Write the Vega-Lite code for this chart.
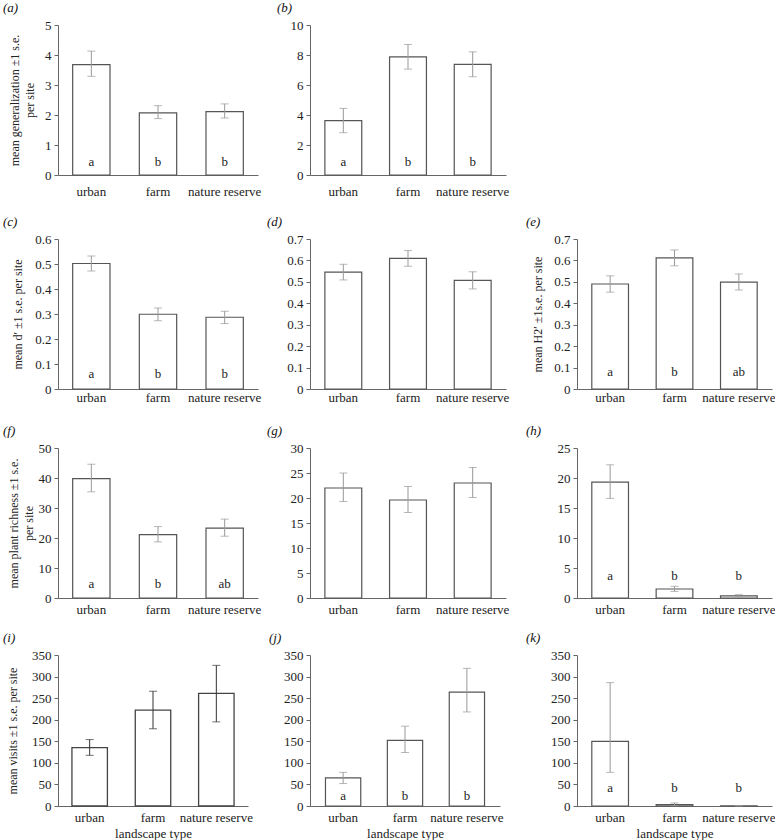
{
  "$schema": "https://vega.github.io/schema/vega-lite/v6.json",
  "padding": {"left": 3, "top": 2, "right": 0, "bottom": 0},
  "config": {
    "view": {"stroke": null},
    "font": "Liberation Serif, Times New Roman, serif",
    "axis": {"labelFont": "Liberation Serif, Times New Roman, serif", "labelFontSize": 13, "labelColor": "#222", "titleFont": "Liberation Serif, Times New Roman, serif", "titleFontSize": 12, "titleFontWeight": "normal", "titleColor": "#222", "domainColor": "#666", "tickColor": "#666", "grid": false},
    "axisX": {"ticks": false, "labelAngle": 0, "labelPadding": 5, "titleFontSize": 13, "titlePadding": 3},
    "axisY": {"tickSize": 4, "labelPadding": 3, "titleLineHeight": 15, "format": "~f"},
    "title": {"font": "Liberation Serif, Times New Roman, serif", "fontSize": 13, "fontStyle": "italic", "fontWeight": "normal", "anchor": "start", "frame": "group", "color": "#111"},
    "text": {"font": "Liberation Serif, Times New Roman, serif", "fontSize": 13, "color": "#222", "baseline": "middle"}
  },
  "columns": 5,
  "spacing": {"row": 57, "column": 0},
  "bounds": "flush",
  "align": "each",
  "concat": [
    {
      "width": 200, "height": 150,
      "title": {"text": "(a)", "dx": -55},
      "data": {"values": [
        {"type": "urban", "mean": 3.68, "lo": 3.29, "hi": 4.13, "letter": "a"},
        {"type": "farm", "mean": 2.07, "lo": 1.88, "hi": 2.31, "letter": "b"},
        {"type": "nature reserve", "mean": 2.11, "lo": 1.90, "hi": 2.37, "letter": "b"}
      ]},
      "encoding": {"x": {"field": "type", "type": "nominal", "sort": ["urban", "farm", "nature reserve"], "scale": {"paddingInner": 0.44, "paddingOuter": 0.22}, "axis": {"title": null, "labelPadding": 10}}},
      "layer": [
        {"mark": {"type": "bar", "fill": "white", "stroke": "#555", "strokeWidth": 1.2}, "encoding": {"y": {"field": "mean", "type": "quantitative", "title": ["mean generalization ±1 s.e.", "per site"], "scale": {"domain": [0, 5], "nice": false}, "axis": {"values": [0, 1, 2, 3, 4, 5], "titlePadding": 8}}}},
        {"mark": {"type": "errorbar", "ticks": {"size": 8}, "color": "#999"}, "encoding": {"y": {"field": "lo", "type": "quantitative", "title": ["mean generalization ±1 s.e.", "per site"], "axis": {"values": [0, 1, 2, 3, 4, 5], "titlePadding": 8}}, "y2": {"field": "hi"}}},
        {"mark": {"type": "text", "dy": -13}, "encoding": {"y": {"datum": 0, "type": "quantitative", "title": ["mean generalization ±1 s.e.", "per site"], "axis": {"values": [0, 1, 2, 3, 4, 5], "titlePadding": 8}}, "text": {"field": "letter"}}}
      ]
    },
    {"width": 52, "height": 157, "data": {"values": []}, "mark": "point"},
    {
      "width": 196, "height": 150,
      "title": {"text": "(b)", "dx": -33},
      "data": {"values": [
        {"type": "urban", "mean": 3.62, "lo": 2.82, "hi": 4.44, "letter": "a"},
        {"type": "farm", "mean": 7.88, "lo": 7.06, "hi": 8.70, "letter": "b"},
        {"type": "nature reserve", "mean": 7.37, "lo": 6.55, "hi": 8.21, "letter": "b"}
      ]},
      "encoding": {"x": {"field": "type", "type": "nominal", "sort": ["urban", "farm", "nature reserve"], "scale": {"paddingInner": 0.43, "paddingOuter": 0.23}, "axis": {"title": null, "labelPadding": 10}}},
      "layer": [
        {"mark": {"type": "bar", "fill": "white", "stroke": "#555", "strokeWidth": 1.2}, "encoding": {"y": {"field": "mean", "type": "quantitative", "title": null, "scale": {"domain": [0, 10], "nice": false}, "axis": {"values": [0, 2, 4, 6, 8, 10]}}}},
        {"mark": {"type": "errorbar", "ticks": {"size": 8}, "color": "#999"}, "encoding": {"y": {"field": "lo", "type": "quantitative", "title": null, "axis": {"values": [0, 2, 4, 6, 8, 10]}}, "y2": {"field": "hi"}}},
        {"mark": {"type": "text", "dy": -13}, "encoding": {"y": {"datum": 0, "type": "quantitative", "title": null, "axis": {"values": [0, 2, 4, 6, 8, 10]}}, "text": {"field": "letter"}}}
      ]
    },
    {"width": 71, "height": 157, "data": {"values": []}, "mark": "point"},
    {"width": 1, "height": 1, "data": {"values": []}, "mark": "point"},

    {
      "width": 200, "height": 150,
      "title": {"text": "(c)", "dx": -55},
      "data": {"values": [
        {"type": "urban", "mean": 0.502, "lo": 0.472, "hi": 0.532, "letter": "a"},
        {"type": "farm", "mean": 0.299, "lo": 0.273, "hi": 0.324, "letter": "b"},
        {"type": "nature reserve", "mean": 0.287, "lo": 0.262, "hi": 0.311, "letter": "b"}
      ]},
      "encoding": {"x": {"field": "type", "type": "nominal", "sort": ["urban", "farm", "nature reserve"], "scale": {"paddingInner": 0.44, "paddingOuter": 0.22}, "axis": {"title": null, "labelPadding": 2}}},
      "layer": [
        {"mark": {"type": "bar", "fill": "white", "stroke": "#555", "strokeWidth": 1.2}, "encoding": {"y": {"field": "mean", "type": "quantitative", "title": "mean d′ ±1 s.e. per site", "scale": {"domain": [0, 0.6], "nice": false}, "axis": {"values": [0, 0.1, 0.2, 0.3, 0.4, 0.5, 0.6], "titlePadding": 10}}}},
        {"mark": {"type": "errorbar", "ticks": {"size": 8}, "color": "#999"}, "encoding": {"y": {"field": "lo", "type": "quantitative", "title": "mean d′ ±1 s.e. per site", "axis": {"values": [0, 0.1, 0.2, 0.3, 0.4, 0.5, 0.6], "titlePadding": 10}}, "y2": {"field": "hi"}}},
        {"mark": {"type": "text", "dy": -15}, "encoding": {"y": {"datum": 0, "type": "quantitative", "title": "mean d′ ±1 s.e. per site", "axis": {"values": [0, 0.1, 0.2, 0.3, 0.4, 0.5, 0.6], "titlePadding": 10}}, "text": {"field": "letter"}}}
      ]
    },
    {"width": 52, "height": 152, "data": {"values": []}, "mark": "point"},
    {
      "width": 196, "height": 150,
      "title": {"text": "(d)", "dx": -43},
      "data": {"values": [
        {"type": "urban", "mean": 0.545, "lo": 0.509, "hi": 0.582},
        {"type": "farm", "mean": 0.610, "lo": 0.573, "hi": 0.646},
        {"type": "nature reserve", "mean": 0.507, "lo": 0.467, "hi": 0.547}
      ]},
      "encoding": {"x": {"field": "type", "type": "nominal", "sort": ["urban", "farm", "nature reserve"], "scale": {"paddingInner": 0.43, "paddingOuter": 0.23}, "axis": {"title": null, "labelPadding": 2}}},
      "layer": [
        {"mark": {"type": "bar", "fill": "white", "stroke": "#555", "strokeWidth": 1.2}, "encoding": {"y": {"field": "mean", "type": "quantitative", "title": null, "scale": {"domain": [0, 0.7], "nice": false}, "axis": {"values": [0, 0.1, 0.2, 0.3, 0.4, 0.5, 0.6, 0.7]}}}},
        {"mark": {"type": "errorbar", "ticks": {"size": 8}, "color": "#999"}, "encoding": {"y": {"field": "lo", "type": "quantitative", "title": null, "axis": {"values": [0, 0.1, 0.2, 0.3, 0.4, 0.5, 0.6, 0.7]}}, "y2": {"field": "hi"}}}
      ]
    },
    {"width": 71, "height": 152, "data": {"values": []}, "mark": "point"},
    {
      "width": 195, "height": 150,
      "title": {"text": "(e)", "dx": -51},
      "data": {"values": [
        {"type": "urban", "mean": 0.490, "lo": 0.452, "hi": 0.528, "letter": "a"},
        {"type": "farm", "mean": 0.612, "lo": 0.575, "hi": 0.649, "letter": "b"},
        {"type": "nature reserve", "mean": 0.499, "lo": 0.462, "hi": 0.537, "letter": "ab"}
      ]},
      "encoding": {"x": {"field": "type", "type": "nominal", "sort": ["urban", "farm", "nature reserve"], "scale": {"paddingInner": 0.43, "paddingOuter": 0.23}, "axis": {"title": null, "labelPadding": 2}}},
      "layer": [
        {"mark": {"type": "bar", "fill": "white", "stroke": "#555", "strokeWidth": 1.2}, "encoding": {"y": {"field": "mean", "type": "quantitative", "title": "mean H2′ ±1s.e. per site", "scale": {"domain": [0, 0.7], "nice": false}, "axis": {"values": [0, 0.1, 0.2, 0.3, 0.4, 0.5, 0.6, 0.7], "titlePadding": 9}}}},
        {"mark": {"type": "errorbar", "ticks": {"size": 8}, "color": "#999"}, "encoding": {"y": {"field": "lo", "type": "quantitative", "title": "mean H2′ ±1s.e. per site", "axis": {"values": [0, 0.1, 0.2, 0.3, 0.4, 0.5, 0.6, 0.7], "titlePadding": 9}}, "y2": {"field": "hi"}}},
        {"mark": {"type": "text", "dy": -17}, "encoding": {"y": {"datum": 0, "type": "quantitative", "title": "mean H2′ ±1s.e. per site", "axis": {"values": [0, 0.1, 0.2, 0.3, 0.4, 0.5, 0.6, 0.7], "titlePadding": 9}}, "text": {"field": "letter"}}}
      ]
    },

    {
      "width": 200, "height": 150,
      "title": {"text": "(f)", "dx": -55},
      "data": {"values": [
        {"type": "urban", "mean": 39.8, "lo": 35.4, "hi": 44.6, "letter": "a"},
        {"type": "farm", "mean": 21.1, "lo": 18.7, "hi": 23.8, "letter": "b"},
        {"type": "nature reserve", "mean": 23.3, "lo": 20.6, "hi": 26.3, "letter": "ab"}
      ]},
      "encoding": {"x": {"field": "type", "type": "nominal", "sort": ["urban", "farm", "nature reserve"], "scale": {"paddingInner": 0.44, "paddingOuter": 0.22}, "axis": {"title": null}}},
      "layer": [
        {"mark": {"type": "bar", "fill": "white", "stroke": "#555", "strokeWidth": 1.2}, "encoding": {"y": {"field": "mean", "type": "quantitative", "title": ["mean plant richness ±1 s.e.", "per site"], "scale": {"domain": [0, 50], "nice": false}, "axis": {"values": [0, 10, 20, 30, 40, 50], "titlePadding": 3}}}},
        {"mark": {"type": "errorbar", "ticks": {"size": 8}, "color": "#999"}, "encoding": {"y": {"field": "lo", "type": "quantitative", "title": ["mean plant richness ±1 s.e.", "per site"], "axis": {"values": [0, 10, 20, 30, 40, 50], "titlePadding": 3}}, "y2": {"field": "hi"}}},
        {"mark": {"type": "text", "dy": -14}, "encoding": {"y": {"datum": 0, "type": "quantitative", "title": ["mean plant richness ±1 s.e.", "per site"], "axis": {"values": [0, 10, 20, 30, 40, 50], "titlePadding": 3}}, "text": {"field": "letter"}}}
      ]
    },
    {"width": 52, "height": 150, "data": {"values": []}, "mark": "point"},
    {
      "width": 196, "height": 150,
      "title": {"text": "(g)", "dx": -43},
      "data": {"values": [
        {"type": "urban", "mean": 22.0, "lo": 19.3, "hi": 25.0},
        {"type": "farm", "mean": 19.6, "lo": 17.1, "hi": 22.3},
        {"type": "nature reserve", "mean": 23.0, "lo": 20.1, "hi": 26.1}
      ]},
      "encoding": {"x": {"field": "type", "type": "nominal", "sort": ["urban", "farm", "nature reserve"], "scale": {"paddingInner": 0.43, "paddingOuter": 0.23}, "axis": {"title": null}}},
      "layer": [
        {"mark": {"type": "bar", "fill": "white", "stroke": "#555", "strokeWidth": 1.2}, "encoding": {"y": {"field": "mean", "type": "quantitative", "title": null, "scale": {"domain": [0, 30], "nice": false}, "axis": {"values": [0, 5, 10, 15, 20, 25, 30]}}}},
        {"mark": {"type": "errorbar", "ticks": {"size": 8}, "color": "#999"}, "encoding": {"y": {"field": "lo", "type": "quantitative", "title": null, "axis": {"values": [0, 5, 10, 15, 20, 25, 30]}}, "y2": {"field": "hi"}}}
      ]
    },
    {"width": 71, "height": 150, "data": {"values": []}, "mark": "point"},
    {
      "width": 195, "height": 150,
      "title": {"text": "(h)", "dx": -51},
      "data": {"values": [
        {"type": "urban", "mean": 19.3, "lo": 16.6, "hi": 22.2, "letter": "a"},
        {"type": "farm", "mean": 1.5, "lo": 1.1, "hi": 1.95, "letter": "b"},
        {"type": "nature reserve", "mean": 0.35, "lo": 0.2, "hi": 0.55, "letter": "b"}
      ]},
      "encoding": {"x": {"field": "type", "type": "nominal", "sort": ["urban", "farm", "nature reserve"], "scale": {"paddingInner": 0.43, "paddingOuter": 0.23}, "axis": {"title": null}}},
      "layer": [
        {"mark": {"type": "bar", "fill": "white", "stroke": "#555", "strokeWidth": 1.2}, "encoding": {"y": {"field": "mean", "type": "quantitative", "title": null, "scale": {"domain": [0, 25], "nice": false}, "axis": {"values": [0, 5, 10, 15, 20, 25]}}}},
        {"mark": {"type": "errorbar", "ticks": {"size": 8}, "color": "#999"}, "encoding": {"y": {"field": "lo", "type": "quantitative", "title": null, "axis": {"values": [0, 5, 10, 15, 20, 25]}}, "y2": {"field": "hi"}}},
        {"mark": {"type": "text", "dy": -22}, "encoding": {"y": {"datum": 0, "type": "quantitative", "title": null, "axis": {"values": [0, 5, 10, 15, 20, 25]}}, "text": {"field": "letter"}}}
      ]
    },

    {
      "width": 190, "height": 151,
      "title": {"text": "(i)", "dx": -55},
      "data": {"values": [
        {"type": "urban", "mean": 135.5, "lo": 117.5, "hi": 154},
        {"type": "farm", "mean": 222, "lo": 179, "hi": 266},
        {"type": "nature reserve", "mean": 261, "lo": 195, "hi": 326}
      ]},
      "encoding": {"x": {"field": "type", "type": "nominal", "sort": ["urban", "farm", "nature reserve"], "scale": {"paddingInner": 0.44, "paddingOuter": 0.22}, "axis": {"title": "landscape type"}}},
      "layer": [
        {"mark": {"type": "bar", "fill": "white", "stroke": "#444", "strokeWidth": 1.3}, "encoding": {"y": {"field": "mean", "type": "quantitative", "title": "mean visits ±1 s.e. per site", "scale": {"domain": [0, 350], "nice": false}, "axis": {"values": [0, 50, 100, 150, 200, 250, 300, 350], "titlePadding": 12}}}},
        {"mark": {"type": "errorbar", "ticks": {"size": 8}, "color": "#333"}, "encoding": {"y": {"field": "lo", "type": "quantitative", "title": "mean visits ±1 s.e. per site", "axis": {"values": [0, 50, 100, 150, 200, 250, 300, 350], "titlePadding": 12}}, "y2": {"field": "hi"}}}
      ]
    },
    {"width": 52, "height": 151, "data": {"values": []}, "mark": "point"},
    {
      "width": 190, "height": 151,
      "title": {"text": "(j)", "dx": -41},
      "data": {"values": [
        {"type": "urban", "mean": 65, "lo": 52, "hi": 78, "letter": "a"},
        {"type": "farm", "mean": 152, "lo": 124, "hi": 185, "letter": "b"},
        {"type": "nature reserve", "mean": 264, "lo": 218, "hi": 319, "letter": "b"}
      ]},
      "encoding": {"x": {"field": "type", "type": "nominal", "sort": ["urban", "farm", "nature reserve"], "scale": {"paddingInner": 0.43, "paddingOuter": 0.25}, "axis": {"title": "landscape type"}}},
      "layer": [
        {"mark": {"type": "bar", "fill": "white", "stroke": "#555", "strokeWidth": 1.2}, "encoding": {"y": {"field": "mean", "type": "quantitative", "title": null, "scale": {"domain": [0, 350], "nice": false}, "axis": {"values": [0, 50, 100, 150, 200, 250, 300, 350]}}}},
        {"mark": {"type": "errorbar", "ticks": {"size": 8}, "color": "#999"}, "encoding": {"y": {"field": "lo", "type": "quantitative", "title": null, "axis": {"values": [0, 50, 100, 150, 200, 250, 300, 350]}}, "y2": {"field": "hi"}}},
        {"mark": {"type": "text", "dy": -10}, "encoding": {"y": {"datum": 0, "type": "quantitative", "title": null, "axis": {"values": [0, 50, 100, 150, 200, 250, 300, 350]}}, "text": {"field": "letter"}}}
      ]
    },
    {"width": 71, "height": 151, "data": {"values": []}, "mark": "point"},
    {
      "width": 195, "height": 151,
      "title": {"text": "(k)", "dx": -51},
      "data": {"values": [
        {"type": "urban", "mean": 150, "lo": 78, "hi": 286, "letter": "a"},
        {"type": "farm", "mean": 3, "lo": 0.5, "hi": 7, "letter": "b"},
        {"type": "nature reserve", "mean": 0.5, "lo": 0.2, "hi": 0.8, "letter": "b"}
      ]},
      "encoding": {"x": {"field": "type", "type": "nominal", "sort": ["urban", "farm", "nature reserve"], "scale": {"paddingInner": 0.43, "paddingOuter": 0.23}, "axis": {"title": "landscape type"}}},
      "layer": [
        {"mark": {"type": "bar", "fill": "white", "stroke": "#555", "strokeWidth": 1.2}, "encoding": {"y": {"field": "mean", "type": "quantitative", "title": null, "scale": {"domain": [0, 350], "nice": false}, "axis": {"values": [0, 50, 100, 150, 200, 250, 300, 350]}}}},
        {"mark": {"type": "errorbar", "ticks": {"size": 8}, "color": "#999"}, "encoding": {"y": {"field": "lo", "type": "quantitative", "title": null, "axis": {"values": [0, 50, 100, 150, 200, 250, 300, 350]}}, "y2": {"field": "hi"}}},
        {"mark": {"type": "text", "dy": -18}, "encoding": {"y": {"datum": 0, "type": "quantitative", "title": null, "axis": {"values": [0, 50, 100, 150, 200, 250, 300, 350]}}, "text": {"field": "letter"}}}
      ]
    }
  ]
}
